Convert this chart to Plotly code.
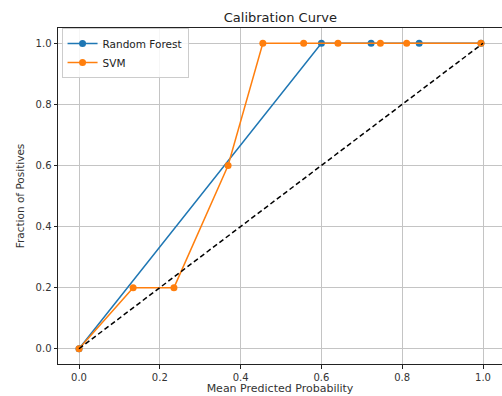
import plotly.graph_objects as go

rf_x = [0.0, 0.6, 0.723, 0.842, 0.995]
rf_y = [0.0, 1.0, 1.0, 1.0, 1.0]
svm_x = [0.0, 0.134, 0.235, 0.369, 0.455, 0.556, 0.641, 0.746, 0.811, 0.995]
svm_y = [0.0, 0.2, 0.2, 0.6, 1.0, 1.0, 1.0, 1.0, 1.0, 1.0]
diag_x = [0.0, 1.0]
diag_y = [0.0, 1.0]
ticks = [0.0, 0.2, 0.4, 0.6, 0.8, 1.0]
tick_text = ["0.0", "0.2", "0.4", "0.6", "0.8", "1.0"]

fig = go.Figure()
fig.add_trace(go.Scatter(x=rf_x, y=rf_y, mode="lines+markers", name="Random Forest",
                         line=dict(color="#1f77b4", width=1.5),
                         marker=dict(color="#1f77b4", size=7)))
fig.add_trace(go.Scatter(x=svm_x, y=svm_y, mode="lines+markers", name="SVM",
                         line=dict(color="#ff7f0e", width=1.5),
                         marker=dict(color="#ff7f0e", size=7)))
fig.add_trace(go.Scatter(x=diag_x, y=diag_y, mode="lines", showlegend=False,
                         line=dict(color="black", width=1.5, dash="5px,3px")))

axis_common = dict(showgrid=True, gridcolor="#c4c4c4", gridwidth=0.8,
                   zeroline=False, showline=True, linecolor="#222222", linewidth=1,
                   ticks="outside", ticklen=3.5, tickcolor="#222222",
                   tickfont=dict(family="DejaVu Sans", size=10, color="#333333"),
                   tickvals=ticks, ticktext=tick_text)

fig.update_layout(
    width=502, height=396,
    margin=dict(l=58, r=0, t=28, b=32),
    paper_bgcolor="white", plot_bgcolor="white",
    title=dict(text="Calibration Curve", x=0.5585, xanchor="center", y=0.957, yanchor="middle",
               font=dict(family="DejaVu Sans", size=13, color="#222222")),
    xaxis=dict(range=[-0.052, 1.047], mirror=True,
               title=dict(text="Mean Predicted Probability", standoff=2,
                          font=dict(family="DejaVu Sans", size=11, color="#333333")),
               **axis_common),
    yaxis=dict(range=[-0.05, 1.05],
               title=dict(text="Fraction of Positives", standoff=8,
                          font=dict(family="DejaVu Sans", size=10.5, color="#333333")),
               **axis_common),
    legend=dict(x=0.008, y=1.0, xanchor="left", yanchor="top",
                bgcolor="rgba(255,255,255,0.85)", bordercolor="#cccccc", borderwidth=1,
                font=dict(family="DejaVu Sans", size=10.5, color="#222222"),
                tracegroupgap=0, itemwidth=30),
    showlegend=True,
)

fig.write_html("out.html", config={"displayModeBar": False},
               post_script="document.body.style.margin='0';")
